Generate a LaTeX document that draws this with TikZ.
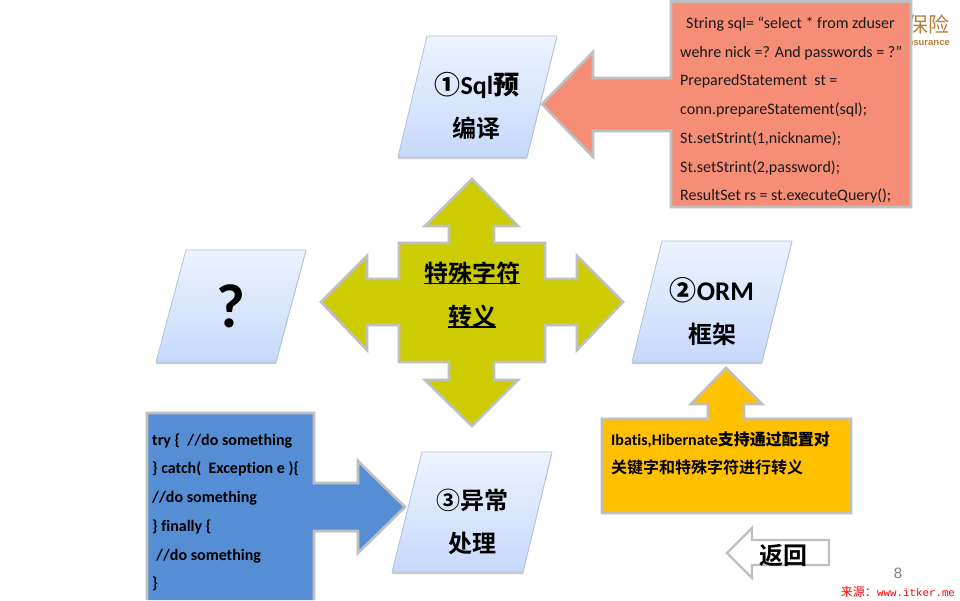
\documentclass[tikz,border=0pt]{standalone}
\usepackage{fontspec}
\setmainfont[Ligatures=NoCommon]{Carlito}
\newfontfamily\cjk{Noto Sans CJK SC}
\newfontfamily\cjkb{Noto Sans CJK SC Bold}
\newfontfamily\monof{Liberation Mono}
\newfontfamily\arialf{Liberation Sans}
\definecolor{salmon}{HTML}{F68D77}
\definecolor{olivey}{HTML}{CCCC00}
\definecolor{bluef}{HTML}{558ED5}
\definecolor{amber}{HTML}{FFC000}
\definecolor{edgegray}{HTML}{BFBFBF}
\definecolor{ptop}{HTML}{EEF3FF}
\definecolor{pbot}{HTML}{C6D9FB}
\definecolor{pedge}{HTML}{B4C2DC}
\definecolor{brownlogo}{HTML}{B8803A}
\tikzset{
  callout/.style={draw=edgegray,line width=2.6pt,miter limit=10},
  para/.style={top color=ptop,bottom color=pbot,draw=pedge,line width=0.8pt},
  parashadow/.style={fill=black!45,opacity=.45,draw=none},
  big/.style={font=\fontsize{26}{26}\selectfont\bfseries,inner sep=0pt,anchor=center},
  codeline/.style={font=\fontsize{16}{16}\selectfont,inner sep=0pt,anchor=base west,text=black!90},
  boldline/.style={font=\fontsize{16}{16}\selectfont\bfseries,inner sep=0pt,anchor=base west},
}
\begin{document}
\begin{tikzpicture}[x=1pt,y=-1pt]
\useasboundingbox (0,0) rectangle (960,600);
\fill[white] (0,0) rectangle (960,600);
% logo
\node[inner sep=0pt,anchor=east,text=brownlogo,font=\fontsize{21}{21}\selectfont\cjk] (logocn) at (950,24) {保险};
\node[inner sep=0pt,anchor=east,text=brownlogo,font=\fontsize{9.5}{9.5}\selectfont\arialf\bfseries] (logoen) at (950,42) {Insurance};
% red
\path[callout,fill=salmon] (671,1.5) -- (911,1.5) -- (911,207) -- (671,207) -- (671,131) -- (593,131) -- (593,157) -- (542,104) -- (593,52) -- (593,78) -- (671,78) -- cycle;
\node[codeline] (r1) at (686,28) {String sql= “select * from zduser};
\node[codeline] (r2) at (680,57) {wehre nick =? And passwords = ?”};
\node[codeline] (r3) at (680,85) {PreparedStatement\ \ st =};
\node[codeline] (r4) at (680,114) {conn.prepareStatement(sql);};
\node[codeline] (r5) at (680,143) {St.setStrint(1,nickname);};
\node[codeline] (r6) at (680,172) {St.setStrint(2,password);};
\node[codeline] (r7) at (680,200) {ResultSet rs = st.executeQuery();};
% parallelograms
\foreach \a/\b/\c/\d/\e/\f/\g/\h in {427/36/557/36/527/157/398/157,662/241/792/241/762/362/632/362,186/250/306/250/276/362/156/362,422/452/552/452/523/572/392/572}{
  \fill[parashadow] (\a,\b+2) -- (\c,\d+2) -- (\e,\f+2) -- (\g,\h+2) -- cycle;
  \shade[para] (\a,\b) -- (\c,\d) -- (\e,\f) -- (\g,\h) -- cycle;
}
\node[big] (p1a) at (477,85) {{\cjkb ①}Sql{\cjkb 预}};
\node[big,font=\fontsize{24}{24}\selectfont\cjkb] (p1b) at (476,128) {编译};
\node[big,font=\fontsize{27}{27}\selectfont\bfseries] (p2a) at (712,290) {{\cjkb ②}ORM};
\node[big,font=\fontsize{24}{24}\selectfont\cjkb] (p2b) at (712,334) {框架};
\node[big,font=\fontsize{62}{62}\selectfont\bfseries] (q) at (231,306) {?};
\node[big,font=\fontsize{24}{24}\selectfont\cjkb] (p3a) at (472,500) {③异常};
\node[big,font=\fontsize{24}{24}\selectfont\cjkb] (p3b) at (472,543) {处理};
% cross
\path[callout,fill=olivey] (472,179) -- (518,226) -- (494,226) -- (494,243) -- (545,243) -- (545,279) -- (577,279) -- (577,256) -- (623,302) -- (577,350) -- (577,325) -- (545,325) -- (545,362) -- (494,362) -- (494,380) -- (518,380) -- (472,426) -- (425,380) -- (449,380) -- (449,362) -- (399,362) -- (399,325) -- (367,325) -- (367,350) -- (321,302) -- (367,256) -- (367,279) -- (399,279) -- (399,243) -- (449,243) -- (449,226) -- (425,226) -- cycle;
\node[big,font=\fontsize{24}{24}\selectfont\cjkb] (c1) at (472,273) {特殊字符};
\node[big,font=\fontsize{24}{24}\selectfont\cjkb] (c2) at (472,316) {转义};
\draw[black,line width=1.2pt] (424,283.5) -- (520,283.5) (448,327) -- (496,327);
% blue
\path[callout,fill=bluef] (147,600) -- (147,413) -- (314,413) -- (314,483) -- (358,483) -- (358,461) -- (405,507) -- (358,553) -- (358,531) -- (314,531) -- (314,600);
\node[boldline] (b1) at (152,445) {try \{\ \ //do something};
\node[boldline] (b2) at (152,473.5) {\} catch(\ \ Exception e )\{};
\node[boldline] (b3) at (152,502) {//do something};
\node[boldline] (b4) at (152,531) {\} finally \{};
\node[boldline] (b5) at (156,560) {//do something};
\node[boldline] (b6) at (152,588) {\}};
% orange
\path[callout,fill=amber] (602,419) -- (708,419) -- (708,404) -- (691,404) -- (726,368) -- (762,404) -- (744,404) -- (744,419) -- (851,419) -- (851,513) -- (602,513) -- cycle;
\node[boldline] (o1) at (611,445) {Ibatis,Hibernate{\cjkb 支持通过配置对}};
\node[boldline,font=\fontsize{16}{16}\selectfont\cjkb] (o2) at (611,473) {关键字和特殊字符进行转义};
% back
\path[draw=edgegray,line width=2.2pt,fill=white] (727,553) -- (752,528) -- (752,540) -- (829,540) -- (829,565) -- (752,565) -- (752,578) -- cycle;
\node[big,font=\fontsize{24}{24}\selectfont\cjkb] (back) at (783,555) {返回};
\node[inner sep=0pt,text=black!50,font=\fontsize{15}{15}\selectfont\arialf] (num) at (898,573) {8};
\node[inner sep=0pt,anchor=base west,text=red,font=\fontsize{10.8}{11}\selectfont\monof] (src) at (877,596) {www.itker.me};
\node[inner sep=0pt,anchor=base east,text=red,font=\fontsize{12}{12}\selectfont\cjk] (srccn) at (src.base west) {来源：};
\end{tikzpicture}
\end{document}
